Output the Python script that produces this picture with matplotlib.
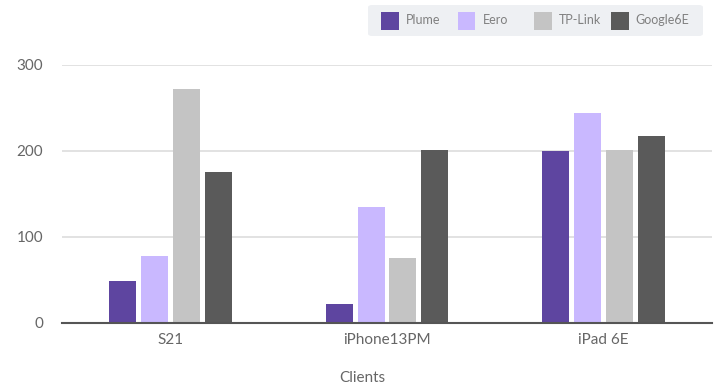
import matplotlib
matplotlib.use("Agg")
import matplotlib.pyplot as plt
from matplotlib.patches import FancyBboxPatch, Rectangle
import numpy as np

categories = ["S21", "iPhone13PM", "iPad 6E"]
series_names = ["Plume", "Eero", "TP-Link", "Google6E"]
plume = [49, 22, 200]
eero = [78, 135, 244]
tplink = [272, 76, 201]
google6e = [175, 201, 218]
yticks = [0, 100, 200, 300]
colors = ["#5e45a0", "#c9b8ff", "#c4c4c4", "#5a5a5a"]

values = [plume, eero, tplink, google6e]

plt.rcParams['font.family'] = ['Lato', 'DejaVu Sans']
W, H = 718, 392
fig = plt.figure(figsize=(W / 100, H / 100), dpi=100)
ax = fig.add_axes([62 / W, (H - 323) / H, (712 - 62) / W, (323 - 65) / H])

x = np.arange(len(categories))
bw = 0.125
step = 0.147
for i, (vals, c) in enumerate(zip(values, colors)):
    ax.bar(x + (i - 1.5) * step, vals, width=bw, color=c, zorder=3)

ax.set_xlim(-0.5, len(categories) - 0.5)
ax.set_ylim(0, 300)
ax.set_yticks(yticks)
ax.set_yticklabels([str(v) for v in yticks])
ax.set_xticks(x)
ax.set_xticklabels(categories)
ax.grid(axis='y', color='#dddddd', linewidth=1.2, zorder=0)
ax.set_axisbelow(True)
for s in ['top', 'right', 'left']:
    ax.spines[s].set_visible(False)
ax.spines['bottom'].set_color('#555555')
ax.spines['bottom'].set_linewidth(1.5)
ax.spines['bottom'].set_zorder(4)
ax.tick_params(axis='both', length=0, colors='#666666', labelsize=11)
ax.tick_params(axis='y', pad=13.5)
ax.tick_params(axis='x', pad=7.5)

fig.text(362 / W, 1 - 378 / H, "Clients", ha='center', va='center',
         fontsize=11, color='#666666')

# legend box
box = FancyBboxPatch((368 / W, 1 - 36 / H), (703 - 368) / W, 31 / H,
                     boxstyle="round,pad=0,rounding_size=0.006",
                     transform=fig.transFigure, facecolor='#eef0f3',
                     edgecolor='none')
fig.add_artist(box)
for i, (name, c) in enumerate(zip(series_names, colors)):
    px = 381 + i * 76.5
    fig.add_artist(Rectangle((px / W, 1 - 29.5 / H), 18 / W, 17 / H,
                             transform=fig.transFigure, facecolor=c,
                             edgecolor='none'))
    fig.text((px + 25) / W, 1 - 20.5 / H, name, ha='left', va='center',
             fontsize=9, color='#808080')

fig.savefig("out.png", dpi=100)
